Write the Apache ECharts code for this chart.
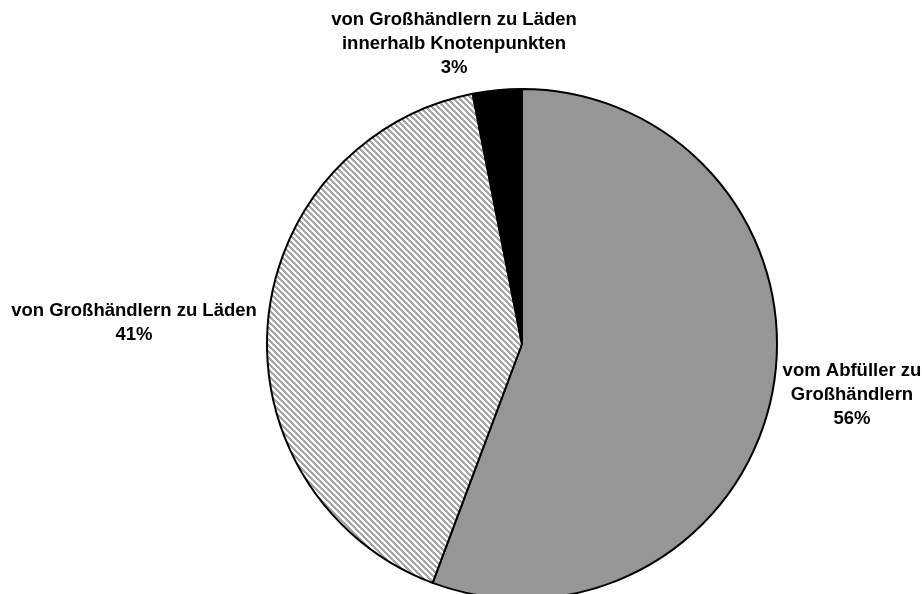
<!DOCTYPE html>
<html>
<head>
<meta charset="utf-8">
<script src="https://cdn.jsdelivr.net/npm/echarts@6/dist/echarts.min.js"></script>
<style>
html,body{margin:0;padding:0;background:#fff;}
#chart{width:922px;height:594px;}
</style>
</head>
<body>
<div id="chart"></div>
<script>
// Data
var categories = ['vom Abfüller zu\nGroßhändlern', 'von Großhändlern zu Läden', 'von Großhändlern zu Läden\ninnerhalb Knotenpunkten'];
var shares = [55.7, 41.2, 3.1];
var percentLabels = ['56%', '41%', '3%'];

// hatch pattern
function makeHatch() {
  var n = 6;
  var c = document.createElement('canvas');
  c.width = n; c.height = n;
  var ctx = c.getContext('2d');
  var img = ctx.createImageData(n, n);
  for (var y = 0; y < n; y++) {
    for (var x = 0; x < n; x++) {
      var d = ((x - y) % n + n) % n;
      var v = (d === 0 || d === 1 || d === 2) ? 165 : 255;
      var i = (y * n + x) * 4;
      img.data[i] = v; img.data[i+1] = v; img.data[i+2] = v; img.data[i+3] = 255;
    }
  }
  ctx.putImageData(img, 0, 0);
  return c;
}
var hatch = makeHatch();
var fills = ['#969696', {image: hatch, repeat: 'repeat'}, '#000000'];

var labelPos = [
  {x: 852, y: 395},
  {x: 134, y: 323},
  {x: 454, y: 44}
];

var chart = echarts.init(document.getElementById('chart'), null, {renderer: 'canvas'});
chart.setOption({
  animation: false,
  backgroundColor: '#ffffff',
  series: [{
    type: 'pie',
    center: [522, 344],
    radius: 255,
    startAngle: 90,
    clockwise: true,
    avoidLabelOverlap: false,
    data: categories.map(function (c, i) {
      return {name: c, value: shares[i], itemStyle: {color: fills[i]}};
    }),
    itemStyle: {borderColor: '#000', borderWidth: 2},
    emphasis: {disabled: true},
    label: {
      show: true,
      position: 'outside',
      formatter: function (p) { return p.name + '\n' + percentLabels[p.dataIndex]; },
      fontFamily: 'Liberation Sans, Arial, sans-serif',
      fontWeight: 'bold',
      fontSize: 18.5,
      lineHeight: 24,
      color: '#000',
      align: 'center'
    },
    labelLine: {show: false},
    labelLayout: function (params) {
      var p = labelPos[params.dataIndex];
      return {x: p.x, y: p.y, align: 'center', verticalAlign: 'middle'};
    }
  }]
});
</script>
</body>
</html>
